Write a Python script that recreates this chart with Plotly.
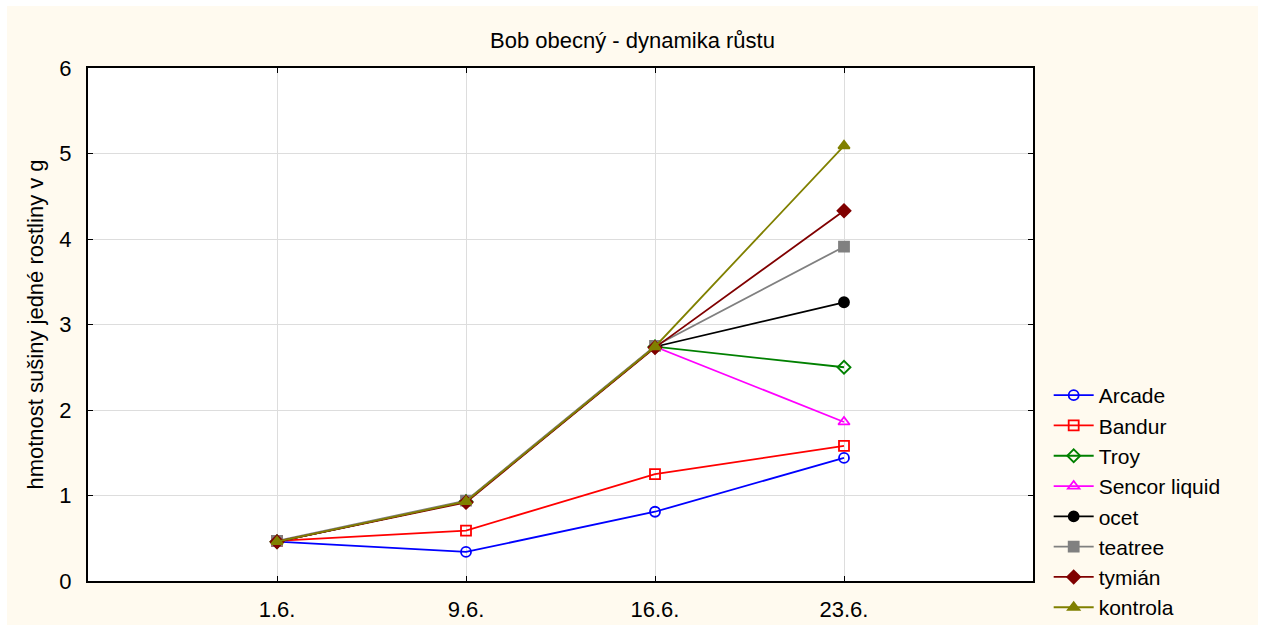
import plotly.graph_objects as go

dates = ["1.6.", "9.6.", "16.6.", "23.6."]

arcade = [0.46, 0.34, 0.81, 1.44]
bandur = [0.47, 0.59, 1.25, 1.58]
troy = [0.46, 0.93, 2.74, 2.50]
sencor = [0.46, 0.93, 2.74, 1.86]
ocet = [0.46, 0.93, 2.74, 3.26]
teatree = [0.47, 0.94, 2.75, 3.91]
tymian = [0.46, 0.92, 2.73, 4.33]
kontrola = [0.46, 0.93, 2.74, 5.09]

series = [
    ("Arcade", arcade, "#0000FF", "circle-open"),
    ("Bandur", bandur, "#FF0000", "square-open"),
    ("Troy", troy, "#008000", "diamond-open"),
    ("Sencor liquid", sencor, "#FF00FF", "triangle-up-open"),
    ("ocet", ocet, "#000000", "circle"),
    ("teatree", teatree, "#808080", "square"),
    ("tymián", tymian, "#800000", "diamond"),
    ("kontrola", kontrola, "#808000", "triangle-up"),
]

FONT = "Liberation Sans, Arial, sans-serif"

fig = go.Figure()

for name, vals, color, symbol in series:
    fig.add_trace(
        go.Scatter(
            x=dates,
            y=vals,
            mode="lines+markers",
            name=name,
            line=dict(color=color, width=1.8),
            marker=dict(symbol=symbol, size=10, color=color,
                        line=dict(color=color, width=1.8)),
        )
    )

# cream panel behind everything, white plot area on top of it
fig.add_shape(type="rect", xref="paper", yref="paper",
              x0=-0.0857, x1=1.2381, y0=-0.0858, y1=1.1209,
              fillcolor="#FFFAEF", line=dict(width=0), layer="below")
fig.add_shape(type="rect", xref="paper", yref="paper",
              x0=0, x1=1, y0=0, y1=1,
              fillcolor="white", line=dict(width=0), layer="below")

fig.update_layout(
    width=1265,
    height=631,
    margin=dict(l=88, r=232, t=68, b=50, autoexpand=False),
    paper_bgcolor="white",
    plot_bgcolor="white",
    font=dict(family=FONT, color="black", size=22),
    title=dict(text="Bob obecný - dynamika růstu", x=0.5, xref="container",
               y=1 - 40 / 631, yanchor="middle",
               font=dict(size=22, family=FONT, color="black")),
    xaxis=dict(
        type="category",
        range=[-1, 4],
        showline=True, linecolor="black", linewidth=2, mirror="ticks",
        ticks="inside", ticklen=5, tickcolor="black",
        showgrid=True, gridcolor="#DDDDDD", gridwidth=1,
        tickfont=dict(size=22),
        ticklabelstandoff=8,
        zeroline=False,
        automargin=False,
    ),
    yaxis=dict(
        range=[0, 6],
        dtick=1,
        showline=True, linecolor="black", linewidth=2, mirror="ticks",
        ticks="inside", ticklen=5, tickcolor="black",
        showgrid=True, gridcolor="#DDDDDD", gridwidth=1,
        tickfont=dict(size=22),
        ticklabelstandoff=10,
        zeroline=False,
        automargin=False,
        title=dict(text="hmotnost sušiny jedné rostliny v g",
                   font=dict(size=22), standoff=10),
    ),
    legend=dict(
        xref="container", x=0.829, xanchor="left",
        yref="container", y=0.4057, yanchor="top",
        bgcolor="rgba(0,0,0,0)",
        font=dict(size=21),
        tracegroupgap=0,
        itemwidth=40,
    ),
)

fig.write_html("out.html", config={"displayModeBar": False},
               post_script="document.body.style.margin='0';")
